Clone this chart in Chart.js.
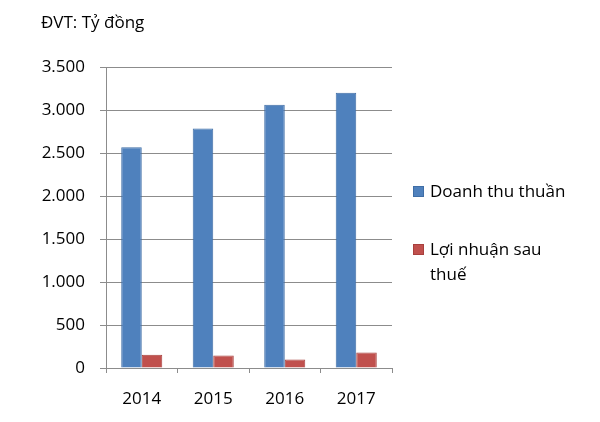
<!DOCTYPE html>
<html>
<head>
<meta charset="utf-8">
<script src="https://cdn.jsdelivr.net/npm/chart.js@4/dist/chart.umd.min.js"></script>
<style>
  body { margin: 0; background: #fff; }
  #wrap { width: 600px; height: 422px; }
</style>
</head>
<body>
<div id="wrap"><canvas id="revenueChart" width="600" height="422"></canvas></div>
<script>
// values (ty dong)
var years = ["2014", "2015", "2016", "2017"];
var doanhThu = [2570, 2790, 3065, 3205];
var loiNhuan = [155, 145, 100, 180];
var yTicks = [0, 500, 1000, 1500, 2000, 2500, 3000, 3500];
var legendNames = [["Doanh thu thuần"], ["Lợi nhuận sau", "thuế"]];

var fontFam = "'Open Sans', sans-serif";
var gridGray = "#8c8c8c";

function fmt(v) {
    // vietnamese style thousands separator
    return String(v).replace(/\B(?=(\d{3})+(?!\d))/g, ".");
}

// legend drawn by hand, the built-in one can't wrap the 2nd label like the original
var sideLegend = {
    id: "sideLegend",
    afterDraw: function (c) {
        var ctx = c.ctx;
        var x = c.chartArea.right + 21;
        var tops = [186, 244];
        ctx.save();
        ctx.font = "17px " + fontFam;
        ctx.textBaseline = "alphabetic";
        c.data.datasets.forEach(function (ds, i) {
            ctx.fillStyle = ds.backgroundColor;
            ctx.fillRect(x, tops[i], 11, 11);
            ctx.strokeStyle = ds.borderColor;
            ctx.lineWidth = 1;
            ctx.strokeRect(x + 0.5, tops[i] + 0.5, 10, 10);
            ctx.fillStyle = "#000";
            legendNames[i].forEach(function (line, j) {
                ctx.fillText(line, x + 17, tops[i] + 11 + j * 25);
            });
        });
        ctx.restore();
    }
};

var chart = new Chart(document.getElementById("revenueChart"), {
    type: "bar",
    data: {
        labels: years,
        datasets: [
            {
                label: legendNames[0].join(" "),
                data: doanhThu,
                backgroundColor: "#4f81bd",
                borderColor: "#3f6ea6",
                borderWidth: 1,
                categoryPercentage: 0.574,
                barPercentage: 1.0
            },
            {
                label: legendNames[1].join(" "),
                data: loiNhuan,
                backgroundColor: "#c0504d",
                borderColor: "#a8403d",
                borderWidth: 1,
                categoryPercentage: 0.574,
                barPercentage: 1.0
            }
        ]
    },
    options: {
        responsive: false,
        animation: false,
        layout: { padding: { left: 41, right: 208, top: 9, bottom: 0 } },
        plugins: {
            title: {
                display: true,
                text: "ĐVT: Tỷ đồng",
                align: "start",
                color: "#000",
                font: { family: fontFam, size: 17, weight: "normal" },
                padding: { top: 4, bottom: 34 }
            },
            legend: { display: false },
            tooltip: { enabled: false }
        },
        scales: {
            x: {
                afterFit: function (s) { s.height = 54; },
                grid: {
                    display: true,
                    drawOnChartArea: false,
                    drawTicks: true,
                    tickLength: 5,
                    color: gridGray
                },
                border: { color: gridGray },
                ticks: {
                    color: "#000",
                    padding: 16,
                    font: { family: fontFam, size: 17 }
                }
            },
            y: {
                min: 0,
                max: 3500,
                afterBuildTicks: function (s) {
                    s.ticks = yTicks.map(function (v) { return { value: v }; });
                },
                afterFit: function (s) { s.width = 65; },
                grid: {
                    color: gridGray,
                    drawTicks: true,
                    tickLength: 6
                },
                border: { color: gridGray },
                ticks: {
                    color: "#000",
                    padding: 15,
                    font: { family: fontFam, size: 17 },
                    callback: function (v) { return fmt(v); }
                }
            }
        }
    },
    plugins: [sideLegend]
});
</script>
</body>
</html>
